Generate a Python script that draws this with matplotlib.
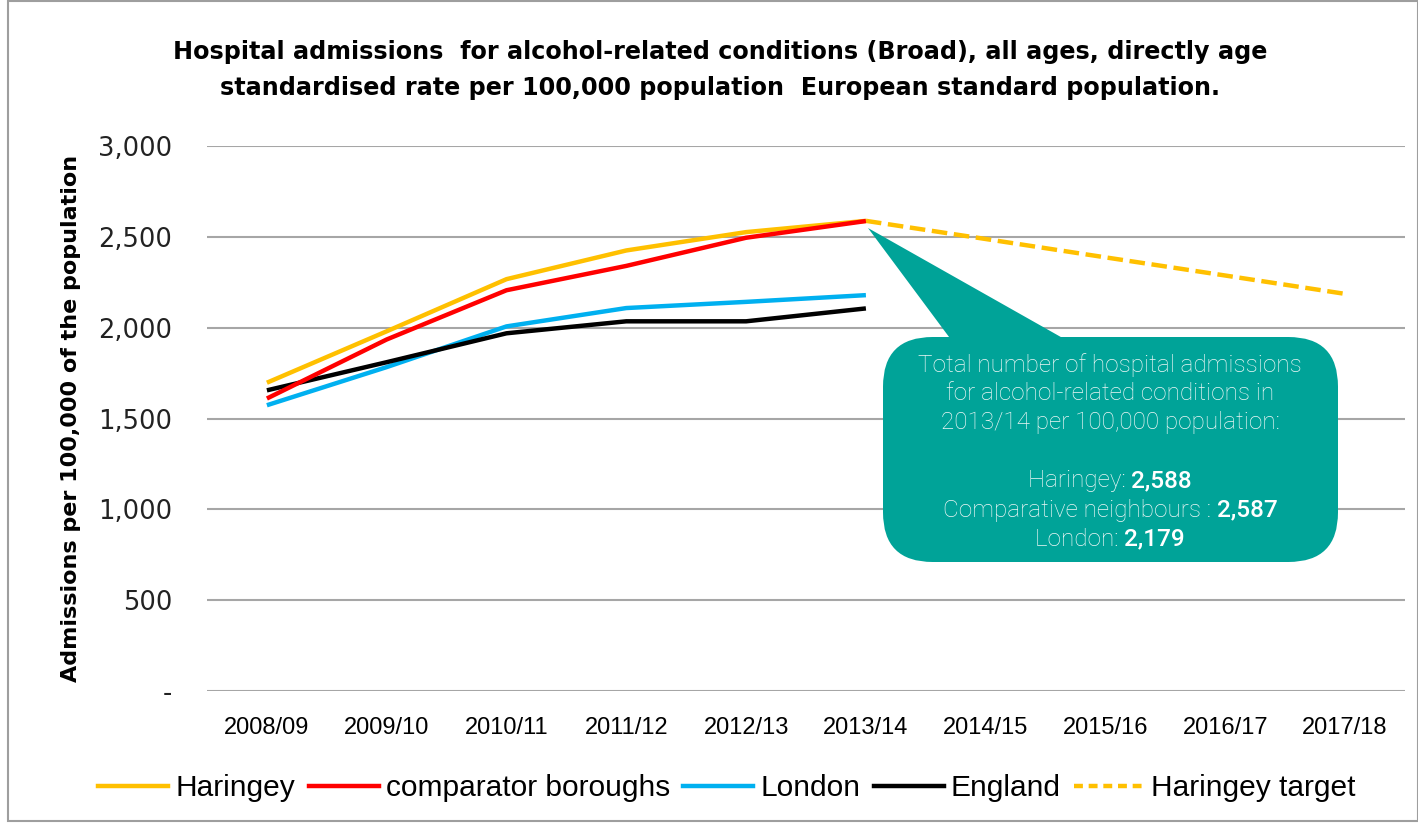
import matplotlib
matplotlib.use("Agg")
import matplotlib.pyplot as plt
from matplotlib.patches import FancyBboxPatch, Polygon, Rectangle
from matplotlib.lines import Line2D

years = ["2008/09", "2009/10", "2010/11", "2011/12", "2012/13", "2013/14",
         "2014/15", "2015/16", "2016/17", "2017/18"]
haringey = [1697, 1980, 2267, 2425, 2526, 2588]
comparator = [1610, 1935, 2206, 2340, 2495, 2587]
london = [1573, 1783, 2007, 2108, 2142, 2179]
england = [1655, 1810, 1969, 2035, 2035, 2106]
target = [2588, 2488, 2387, 2287, 2186]
target_start = 5
yticks = [0, 500, 1000, 1500, 2000, 2500, 3000]
ytick_labels = ["-", "500", "1,000", "1,500", "2,000", "2,500", "3,000"]

title = ("Hospital admissions  for alcohol-related conditions (Broad), all ages, directly age\n"
         "standardised rate per 100,000 population  European standard population.")
ylabel = "Admissions per 100,000 of the population"
callout_lines = [
    ("Total number of hospital admissions", ""),
    ("for alcohol-related conditions in", ""),
    ("2013/14 per 100,000 population:", ""),
    ("", ""),
    ("Haringey: ", "2,588"),
    ("Comparative neighbours : ", "2,587"),
    ("London: ", "2,179"),
]

W, H = 1418, 827
fig = plt.figure(figsize=(W / 100, H / 100), dpi=100)
narrow = ["Liberation Sans", "DejaVu Sans"]

def fx(px):
    return px / W

def fy(py):
    return 1 - py / H

ax = fig.add_axes([fx(207), fy(691), fx(1405) - fx(207), fy(146) - fy(691)])
x_all = list(range(len(years)))
c_yel, c_red, c_blue, c_blk = "#FFC000", "#FF0000", "#00B0F0", "#000000"
lw = 3.2
ax.plot(x_all[:len(haringey)], haringey, color=c_yel, lw=lw, solid_capstyle="butt", zorder=4)
ax.plot(x_all[:len(comparator)], comparator, color=c_red, lw=lw, solid_capstyle="butt", zorder=5)
ax.plot(x_all[:len(london)], london, color=c_blue, lw=lw, solid_capstyle="butt", zorder=4)
ax.plot(x_all[:len(england)], england, color=c_blk, lw=lw, solid_capstyle="butt", zorder=4)
ax.plot(x_all[target_start:target_start + len(target)], target, color=c_yel, lw=lw,
        dashes=(3.5, 1.5), zorder=4)

ax.set_xlim(-0.5, len(years) - 0.5)
ax.set_ylim(0, 3000)
ax.set_yticks(yticks)
ax.set_yticklabels(ytick_labels, fontsize=18.5, family="DejaVu Sans", color="#222222")
ax.set_xticks(x_all)
ax.set_xticklabels(years, fontsize=17, family=narrow)
ax.tick_params(length=0, axis="y", pad=25)
ax.tick_params(length=0, axis="x", pad=19)
for s in ax.spines.values():
    s.set_visible(False)
ax.grid(axis="y", color="#A6A6A6", lw=1.5)
ax.set_axisbelow(True)
ax.set_ylabel(ylabel, fontsize=16, fontweight="bold", family="DejaVu Sans", labelpad=12)

fig.text(fx(720), fy(70), title, ha="center", va="center", fontsize=17.2,
         fontweight="bold", family="DejaVu Sans", linespacing=1.65)

# Callout
teal = "#00A398"
box = FancyBboxPatch((fx(883), fy(562)), fx(1338) - fx(883), fy(337) - fy(562),
                     boxstyle="round,pad=0,rounding_size=0.035", transform=fig.transFigure,
                     facecolor=teal, edgecolor="none", mutation_aspect=W / H, zorder=10)
fig.patches.append(box)
tri = Polygon([(fx(868), fy(228)), (fx(955), fy(345)), (fx(1075), fy(345))],
              closed=True, transform=fig.transFigure, facecolor=teal, edgecolor="none", zorder=10)
fig.patches.append(tri)

fig.canvas.draw()
renderer = fig.canvas.get_renderer()
cx = fx(1110)
y0 = 365
for i, (light, bold) in enumerate(callout_lines):
    ypix = y0 + i * 29.0
    if not light and not bold:
        continue
    t1 = fig.text(0, fy(ypix), light, ha="left", va="center", fontsize=17.5,
                  family="Roboto", fontweight="light", color="#EEF7F6", zorder=11)
    t2 = fig.text(0, fy(ypix), bold, ha="left", va="center", fontsize=17.5,
                  family="Roboto", fontweight="medium", color="white", zorder=11)
    w1 = t1.get_window_extent(renderer).width / W if light else 0
    w2 = t2.get_window_extent(renderer).width / W if bold else 0
    start = cx - (w1 + w2) / 2
    t1.set_x(start)
    t2.set_x(start + w1)

handles = [
    Line2D([], [], color=c_yel, lw=lw),
    Line2D([], [], color=c_red, lw=lw),
    Line2D([], [], color=c_blue, lw=lw),
    Line2D([], [], color=c_blk, lw=lw),
    Line2D([], [], color=c_yel, lw=lw, dashes=(2, 1.3)),
]
labels = ["Haringey", "comparator boroughs", "London", "England", "Haringey target"]
fig.legend(handles, labels, loc="center", bbox_to_anchor=(fx(727), fy(788)), ncol=5,
           frameon=False, prop={"family": narrow, "size": 21.5}, handlelength=2.35,
           handletextpad=0.23, columnspacing=0.45)

fig.patches.append(Rectangle((fx(8), fy(821)), fx(1418) - fx(8), fy(1) - fy(821),
                             transform=fig.transFigure, fill=False, edgecolor="#9E9E9E", lw=1.5))

fig.savefig("out.png", dpi=100)
